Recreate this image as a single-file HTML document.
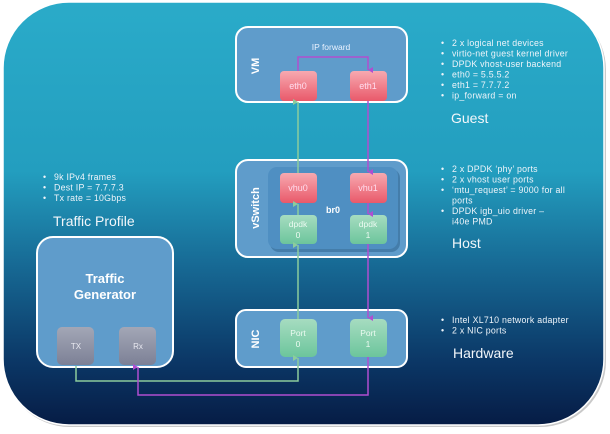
<!DOCTYPE html>
<html><head><meta charset="utf-8"><style>
html,body{margin:0;padding:0;background:#fff;}
svg{display:block;font-family:"Liberation Sans",sans-serif;}
</style></head><body>
<svg width="610" height="434" viewBox="0 0 610 434" xmlns="http://www.w3.org/2000/svg">
<defs>
<linearGradient id="bg" x1="0" y1="0" x2="0" y2="1">
<stop offset="0" stop-color="#2aabc9"/>
<stop offset="0.4" stop-color="#239ebf"/>
<stop offset="0.62" stop-color="#176a95"/>
<stop offset="0.85" stop-color="#0b3766"/>
<stop offset="1" stop-color="#061c45"/>
</linearGradient>
<linearGradient id="pk" x1="0" y1="0" x2="0" y2="1">
<stop offset="0" stop-color="#f7a9b0"/><stop offset="1" stop-color="#e9596a"/>
</linearGradient>
<linearGradient id="gr" x1="0" y1="0" x2="0" y2="1">
<stop offset="0" stop-color="#a6dcc0"/><stop offset="1" stop-color="#6cc59c"/>
</linearGradient>
<linearGradient id="gy" x1="0" y1="0" x2="0" y2="1">
<stop offset="0" stop-color="#a3a7b6"/><stop offset="1" stop-color="#7c8096"/>
</linearGradient>
<marker id="ag" markerWidth="6" markerHeight="6" refX="3" refY="5" orient="auto-start-reverse" markerUnits="userSpaceOnUse"><path d="M0,0 L3,5 L6,0Z" fill="#8ccc9c"/></marker>
<marker id="ap" markerWidth="6" markerHeight="6" refX="3" refY="5" orient="auto-start-reverse" markerUnits="userSpaceOnUse"><path d="M0,0 L3,5 L6,0Z" fill="#b04ed0"/></marker>
</defs>
<rect x="4" y="4" width="602" height="423" rx="66" fill="#c9c9c9"/>
<rect x="3" y="2" width="601" height="423" rx="66" fill="url(#bg)" stroke="#fff" stroke-width="1.5"/>

<!-- VM -->
<rect x="236" y="27" width="171" height="75" rx="12" fill="#5f9ccb" stroke="#fff" stroke-width="2"/>
<text x="0" y="0" transform="translate(259,66) rotate(-90)" text-anchor="middle" fill="#fff" font-weight="bold" font-size="11">VM</text>
<text x="331" y="50" text-anchor="middle" fill="#eaf2ff" font-size="8.5">IP forward</text>
<rect x="280" y="71" width="37" height="30" rx="4" fill="url(#pk)"/>
<rect x="350" y="71" width="37" height="30" rx="4" fill="url(#pk)"/>
<text x="298" y="89" text-anchor="middle" fill="#fde" font-size="9">eth0</text>
<text x="368" y="89" text-anchor="middle" fill="#fde" font-size="9">eth1</text>

<!-- vSwitch -->
<rect x="236" y="160" width="171" height="97" rx="12" fill="#5f9ccb" stroke="#fff" stroke-width="2"/>
<rect x="270" y="169" width="130" height="83" rx="9" fill="#2a5d8a" opacity="0.5"/>
<rect x="268" y="167" width="130" height="82" rx="9" fill="#4f8fc2"/>
<text x="0" y="0" transform="translate(259,208) rotate(-90)" text-anchor="middle" fill="#fff" font-weight="bold" font-size="11">vSwitch</text>
<text x="333" y="213" text-anchor="middle" fill="#fff" font-weight="bold" font-size="9">br0</text>
<rect x="280" y="173" width="37" height="30" rx="4" fill="url(#pk)"/>
<rect x="350" y="173" width="37" height="30" rx="4" fill="url(#pk)"/>
<text x="298" y="191" text-anchor="middle" fill="#fde" font-size="9">vhu0</text>
<text x="368" y="191" text-anchor="middle" fill="#fde" font-size="9">vhu1</text>
<rect x="280" y="215" width="37" height="29" rx="4" fill="url(#gr)"/>
<rect x="350" y="215" width="37" height="29" rx="4" fill="url(#gr)"/>
<text x="298" y="227" text-anchor="middle" fill="#eafaf0" font-size="8.5">dpdk</text>
<text x="298" y="238" text-anchor="middle" fill="#eafaf0" font-size="8.5">0</text>
<text x="368" y="227" text-anchor="middle" fill="#eafaf0" font-size="8.5">dpdk</text>
<text x="368" y="238" text-anchor="middle" fill="#eafaf0" font-size="8.5">1</text>

<!-- NIC -->
<rect x="236" y="310" width="171" height="57" rx="10" fill="#5f9ccb" stroke="#fff" stroke-width="2"/>
<text x="0" y="0" transform="translate(259,339) rotate(-90)" text-anchor="middle" fill="#fff" font-weight="bold" font-size="11">NIC</text>
<rect x="280" y="319" width="37" height="38" rx="5" fill="url(#gr)"/>
<rect x="350" y="319" width="37" height="38" rx="5" fill="url(#gr)"/>
<text x="298" y="336" text-anchor="middle" fill="#eafaf0" font-size="8.5">Port</text>
<text x="298" y="347" text-anchor="middle" fill="#eafaf0" font-size="8.5">0</text>
<text x="368" y="336" text-anchor="middle" fill="#eafaf0" font-size="8.5">Port</text>
<text x="368" y="347" text-anchor="middle" fill="#eafaf0" font-size="8.5">1</text>

<!-- Traffic generator -->
<rect x="37" y="237" width="136" height="130" rx="16" fill="#5f9ccb" stroke="#fff" stroke-width="2"/>
<text x="105" y="283" text-anchor="middle" fill="#fff" font-weight="bold" font-size="13">Traffic</text>
<text x="105" y="299" text-anchor="middle" fill="#fff" font-weight="bold" font-size="13">Generator</text>
<rect x="57" y="327" width="37" height="38" rx="5" fill="url(#gy)"/>
<rect x="119" y="327" width="37" height="38" rx="5" fill="url(#gy)"/>
<text x="76" y="349" text-anchor="middle" fill="#e8e8f0" font-size="8">TX</text>
<text x="138" y="349" text-anchor="middle" fill="#e8e8f0" font-size="8">Rx</text>

<!-- green lines -->
<g stroke="#8ccc9c" stroke-width="1.5" fill="none">
<path d="M76,366 V381 H298 V358" marker-end="url(#ag)"/>
<path d="M298,319 V245" marker-end="url(#ag)"/>
<path d="M298,215 V204" marker-end="url(#ag)"/>
<path d="M298,173 V102" marker-end="url(#ag)"/>
</g>
<!-- purple lines -->
<g stroke="#b04ed0" stroke-width="1.5" fill="none">
<path d="M298,71 V57 H368 V70" marker-end="url(#ap)"/>
<path d="M368,101 V172" marker-end="url(#ap)"/>
<path d="M368,203 V214" marker-end="url(#ap)"/>
<path d="M368,244 V318" marker-end="url(#ap)"/>
<path d="M368,357 V395 H138 V367" marker-end="url(#ap)"/>
</g>

<!-- right text -->
<g fill="#eef4fa" font-size="8.8" letter-spacing="0.25">
<text x="441" y="46">•</text><text x="452" y="46">2 x logical net devices</text>
<text x="441" y="56.5">•</text><text x="452" y="56.5">virtio-net guest kernel driver</text>
<text x="441" y="67">•</text><text x="452" y="67">DPDK vhost-user backend</text>
<text x="441" y="77.5">•</text><text x="452" y="77.5">eth0 = 5.5.5.2</text>
<text x="441" y="88">•</text><text x="452" y="88">eth1 = 7.7.7.2</text>
<text x="441" y="98.5">•</text><text x="452" y="98.5">ip_forward = on</text>
<text x="441" y="172">•</text><text x="452" y="172">2 x DPDK ‘phy’ ports</text>
<text x="441" y="182.5">•</text><text x="452" y="182.5">2 x vhost user ports</text>
<text x="441" y="193">•</text><text x="452" y="193">‘mtu_request’ = 9000 for all</text>
<text x="452" y="203.5">ports</text>
<text x="441" y="214">•</text><text x="452" y="214">DPDK igb_uio driver –</text>
<text x="452" y="224.5">i40e PMD</text>
<text x="441" y="323">•</text><text x="452" y="323">Intel XL710 network adapter</text>
<text x="441" y="333.5">•</text><text x="452" y="333.5">2 x NIC ports</text>
<text x="43" y="180">•</text><text x="54" y="180">9k IPv4 frames</text>
<text x="43" y="190.5">•</text><text x="54" y="190.5">Dest IP = 7.7.7.3</text>
<text x="43" y="201">•</text><text x="54" y="201">Tx rate = 10Gbps</text>
</g>
<g fill="#f2f6fa" font-size="14">
<text x="451" y="123">Guest</text>
<text x="452" y="248">Host</text>
<text x="453" y="358">Hardware</text>
<text x="53" y="226">Traffic Profile</text>
</g>
</svg>
</body></html>
